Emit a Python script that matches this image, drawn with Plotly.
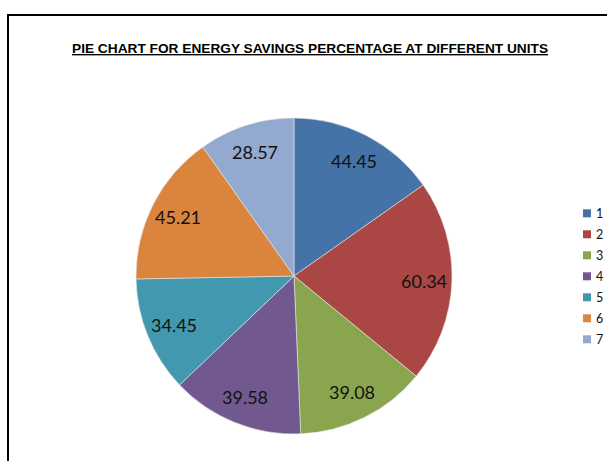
import math
import plotly.graph_objects as go

# Energy savings (%) per unit
units = ["1", "2", "3", "4", "5", "6", "7"]
savings = [44.45, 60.34, 39.08, 39.58, 34.45, 45.21, 28.57]
colors = ["#4572A7", "#AA4643", "#89A54E", "#71588F", "#4198AF", "#DB843D", "#93A9CF"]

W, H = 607, 461


def px(x):
    return x / W


def py(y):
    return 1 - y / H


# pie geometry (pixels): centre, radius and label distance from the centre
cx, cy, r = 294, 276, 158
label_r = 130

fig = go.Figure(
    go.Pie(
        labels=units,
        values=savings,
        sort=False,
        direction="clockwise",
        rotation=0,
        marker=dict(colors=colors, line=dict(color="#e8e8e8", width=0.6)),
        textinfo="none",
        showlegend=False,
        hoverinfo="label+value",
        domain=dict(x=[px(cx - r), px(cx + r)], y=[py(cy + r), py(cy - r)]),
    )
)

shapes = [
    # frame: top and left edges
    dict(type="line", xref="paper", yref="paper", x0=px(7), x1=px(607), y0=py(15), y1=py(15),
         line=dict(color="black", width=2)),
    dict(type="line", xref="paper", yref="paper", x0=px(8), x1=px(8), y0=py(14), y1=py(461),
         line=dict(color="black", width=2)),
]
annotations = [
    dict(text="<u><b>PIE CHART FOR ENERGY SAVINGS PERCENTAGE AT DIFFERENT UNITS</b></u>",
         x=px(310), y=py(48), xref="paper", yref="paper", xanchor="center", yanchor="middle",
         showarrow=False,
         font=dict(family="Liberation Sans, Arial, sans-serif", size=13.7, color="black")),
]

# value labels placed at each slice's mid-angle (clockwise from 12 o'clock)
total = sum(savings)
start = 0.0
for v in savings:
    mid = 2 * math.pi * (start + v / 2) / total
    start += v
    lx = cx + label_r * math.sin(mid)
    ly = cy - label_r * math.cos(mid)
    annotations.append(dict(text=f"{v:.2f}", x=px(lx), y=py(ly), xref="paper", yref="paper",
                            xanchor="center", yanchor="middle", showarrow=False,
                            font=dict(family="Lato, Open Sans, sans-serif", size=18, color="#111111")))

# legend drawn as swatches and labels
for i, (u, c) in enumerate(zip(units, colors)):
    yc = 213.3 + 21 * i
    shapes.append(dict(type="rect", xref="paper", yref="paper",
                       x0=px(583), x1=px(591), y0=py(yc + 4), y1=py(yc - 4),
                       fillcolor=c, line=dict(width=0)))
    annotations.append(dict(text=u, x=px(594), y=py(yc), xref="paper", yref="paper",
                            xanchor="left", yanchor="middle", showarrow=False,
                            font=dict(family="Lato, Open Sans, sans-serif", size=12.5, color="#111111")))

fig.update_layout(
    width=W, height=H,
    margin=dict(l=0, r=0, t=0, b=0),
    paper_bgcolor="white",
    plot_bgcolor="white",
    shapes=shapes,
    annotations=annotations,
)

fig.write_html("out.html")
